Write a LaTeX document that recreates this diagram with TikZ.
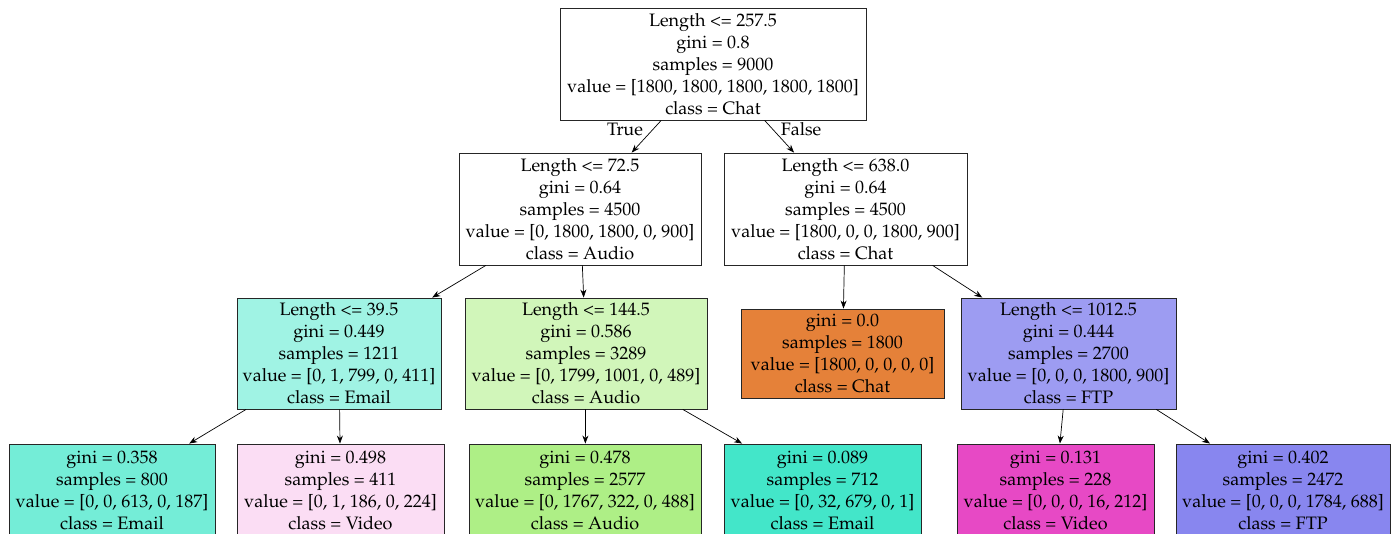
\documentclass[tikz,border=0pt]{standalone}
\usepackage[T1]{fontenc}
\usepackage{mathpazo}
\usetikzlibrary{arrows.meta}
\definecolor{chatc}{RGB}{229,129,57}
\definecolor{audioc}{RGB}{123,229,57}
\definecolor{emailc}{RGB}{57,229,198}
\definecolor{ftpc}{RGB}{60,57,229}
\definecolor{videoc}{RGB}{229,57,192}

\begin{document}
\begin{tikzpicture}[x=1pt, y=1pt,
    every node/.style={font=\fontsize{18}{22}\selectfont},
    box/.style={rectangle, draw=black!85, line width=0.9pt, align=center, inner sep=0pt},
    edge/.style={-{Stealth[length=8pt,width=6pt]}, line width=0.7pt}]
            \useasboundingbox (0,0) rectangle (1397,-533);

            \node[box, fill=white, minimum width=306, minimum height=112] (root) at (713,-64)
                {Length <= 257.5\\gini = 0.8\\samples = 9000\\value = [1800, 1800, 1800, 1800, 1800]\\class = Chat};

            \node[box, fill=white, minimum width=242, minimum height=112] (l) at (580,-209)
                {Length <= 72.5\\gini = 0.64\\samples = 4500\\value = [0, 1800, 1800, 0, 900]\\class = Audio};
            \node[box, fill=white, minimum width=243, minimum height=112] (r) at (845.5,-209)
                {Length <= 638.0\\gini = 0.64\\samples = 4500\\value = [1800, 0, 0, 1800, 900]\\class = Chat};

            \node[box, fill=emailc!48!white, minimum width=204, minimum height=111] (ll) at (339,-353.5)
                {Length <= 39.5\\gini = 0.449\\samples = 1211\\value = [0, 1, 799, 0, 411]\\class = Email};
            \node[box, fill=audioc!35!white, minimum width=242, minimum height=111] (lr) at (586,-353.5)
                {Length <= 144.5\\gini = 0.586\\samples = 3289\\value = [0, 1799, 1001, 0, 489]\\class = Audio};
            \node[box, fill=chatc, minimum width=203, minimum height=89] (rl) at (842.5,-353.5)
                {gini = 0.0\\samples = 1800\\value = [1800, 0, 0, 0, 0]\\class = Chat};
            \node[box, fill=ftpc!50!white, minimum width=215, minimum height=111] (rr) at (1068.5,-353.5)
                {Length <= 1012.5\\gini = 0.444\\samples = 2700\\value = [0, 0, 0, 1800, 900]\\class = FTP};

            \node[box, fill=emailc!70!white, minimum width=206, minimum height=92] (lll) at (112,-490)
                {gini = 0.358\\samples = 800\\value = [0, 0, 613, 0, 187]\\class = Email};
            \node[box, fill=videoc!17!white, minimum width=207, minimum height=92] (llr) at (340.5,-490)
                {gini = 0.498\\samples = 411\\value = [0, 1, 186, 0, 224]\\class = Video};
            \node[box, fill=audioc!61!white, minimum width=232, minimum height=92] (lrl) at (585,-490)
                {gini = 0.478\\samples = 2577\\value = [0, 1767, 322, 0, 488]\\class = Audio};
            \node[box, fill=emailc!95!white, minimum width=197, minimum height=92] (lrr) at (822.5,-490)
                {gini = 0.089\\samples = 712\\value = [0, 32, 679, 0, 1]\\class = Email};
            \node[box, fill=videoc!92!white, minimum width=197, minimum height=92] (rrl) at (1055.5,-490)
                {gini = 0.131\\samples = 228\\value = [0, 0, 0, 16, 212]\\class = Video};
            \node[box, fill=ftpc!61!white, minimum width=214, minimum height=92] (rrr) at (1283,-490)
                {gini = 0.402\\samples = 2472\\value = [0, 0, 0, 1784, 688]\\class = FTP};

            \node (true) at (625,-129) {True};
            \node (false) at (801,-129) {False};

            \draw[edge] (root) -- (l);
            \draw[edge] (root) -- (r);
            \draw[edge] (l) -- (ll);
            \draw[edge] (l) -- (lr);
            \draw[edge] (r) -- (rl);
            \draw[edge] (r) -- (rr);
            \draw[edge] (ll) -- (lll);
            \draw[edge] (ll) -- (llr);
            \draw[edge] (lr) -- (lrl);
            \draw[edge] (lr) -- (lrr);
            \draw[edge] (rr) -- (rrl);
            \draw[edge] (rr) -- (rrr);
        \end{tikzpicture}
\end{document}
